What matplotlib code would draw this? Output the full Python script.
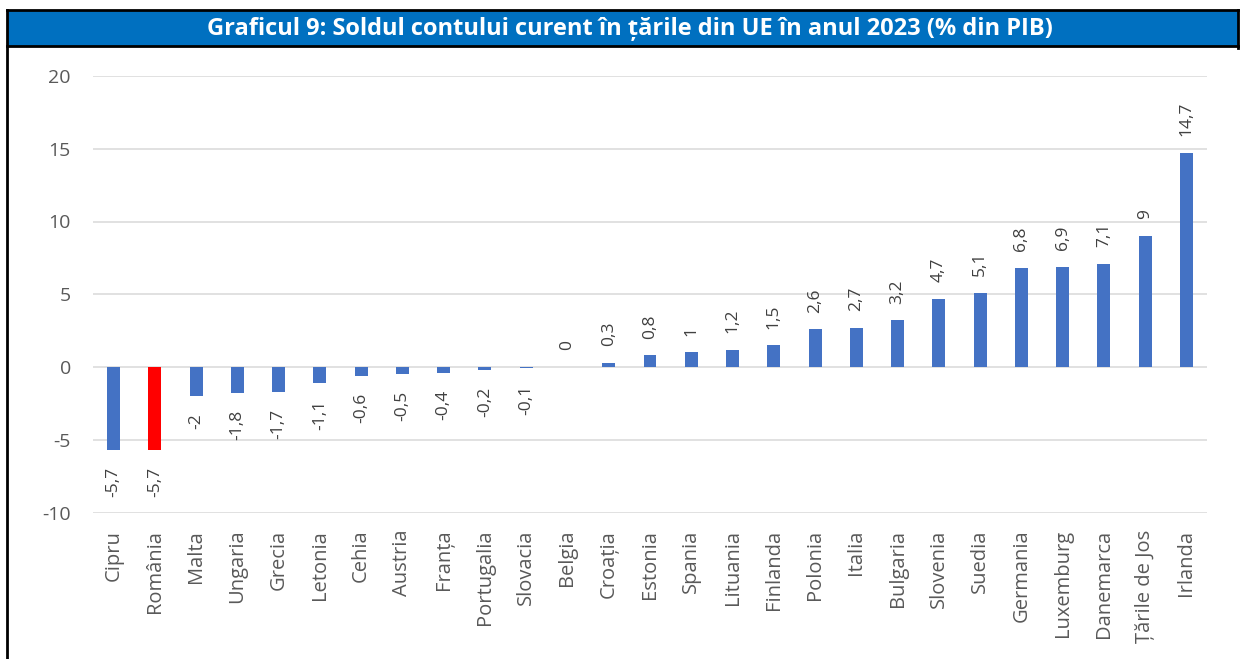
import matplotlib

matplotlib.use("Agg")
import matplotlib.pyplot as plt
from matplotlib.patches import Rectangle
from matplotlib.lines import Line2D

countries = ["Cipru", "România", "Malta", "Ungaria", "Grecia", "Letonia", "Cehia",
             "Austria", "Franța", "Portugalia", "Slovacia", "Belgia", "Croația",
             "Estonia", "Spania", "Lituania", "Finlanda", "Polonia", "Italia",
             "Bulgaria", "Slovenia", "Suedia", "Germania", "Luxemburg", "Danemarca",
             "Țările de Jos", "Irlanda"]
values = [-5.7, -5.7, -2, -1.8, -1.7, -1.1, -0.6, -0.5, -0.4, -0.2, -0.1, 0, 0.3,
          0.8, 1, 1.2, 1.5, 2.6, 2.7, 3.2, 4.7, 5.1, 6.8, 6.9, 7.1, 9, 14.7]
yticks = [-10, -5, 0, 5, 10, 15, 20]

BLUE = "#4472C4"
RED = "#FF0000"
GREY = "#595959"

plt.rcParams["font.family"] = ["Open Sans", "DejaVu Sans"]

W, H = 1244, 659
fig = plt.figure(figsize=(W / 100, H / 100), dpi=100)

# title bar and frame (pixel coords from the top-left)
fig.patches.append(Rectangle((7 / W, 1 - 46 / H), (1238 - 7) / W, 35 / H,
                             transform=fig.transFigure, facecolor="#0070C0",
                             edgecolor="none"))
for xs, ys in [((7, 1238), (10, 10)), ((7, 1238), (46, 46)),
               ((7, 7), (10, 659)), ((1238, 1238), (10, 48))]:
    fig.lines.append(Line2D([x / W for x in xs], [1 - y / H for y in ys],
                            transform=fig.transFigure, color="black", lw=2))
fig.text(630 / W, 1 - 29 / H,
         "Graficul 9: Soldul contului curent în țările din UE în anul 2023 (% din PIB)",
         ha="center", va="center", color="white", fontsize=17, fontweight="bold")

ax = fig.add_axes([93 / W, 1 - 512.5 / H, 1114 / W, 436.5 / H])
colors = [RED if c == "România" else BLUE for c in countries]
x = range(len(countries))
ax.bar(x, values, width=0.315, color=colors, zorder=3)
ax.set_xlim(-0.5, len(countries) - 0.5)
ax.set_ylim(-10, 20)
ax.set_yticks(yticks)
ax.set_yticklabels([str(t) for t in yticks], fontsize=14, color=GREY)
ax.set_xticks(list(x))
ax.set_xticklabels(countries, rotation=90, fontsize=14.5, color=GREY)
ax.tick_params(length=0)
ax.tick_params(axis="y", pad=16)
ax.tick_params(axis="x", pad=12.5)
ax.grid(axis="y", color="#D9D9D9", lw=1.1, zorder=0)
for s in ax.spines.values():
    s.set_visible(False)

for i, v in enumerate(values):
    lab = f"{v:g}".replace(".", ",")
    if v >= 0:
        ax.annotate(lab, (i, v), xytext=(0, 12), textcoords="offset points",
                    rotation=90, ha="center", va="bottom", fontsize=12.5,
                    color="#404040")
    else:
        ax.annotate(lab, (i, v), xytext=(0, -12), textcoords="offset points",
                    rotation=90, ha="center", va="top", fontsize=12.5,
                    color="#404040")

fig.savefig("out.png", dpi=100)
